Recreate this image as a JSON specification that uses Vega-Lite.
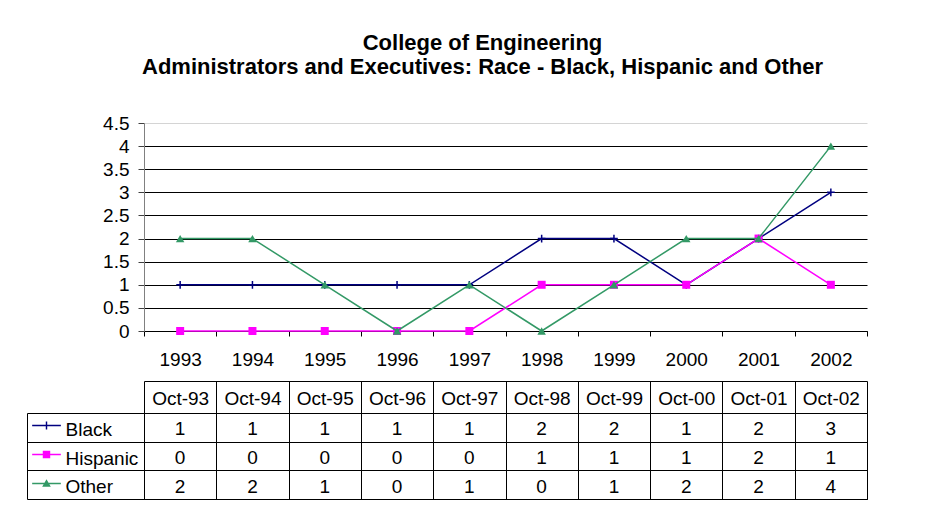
{
  "$schema": "https://vega.github.io/schema/vega-lite/v6.json",
  "background": "white",
  "padding": {"left": 26, "top": 31, "right": 78, "bottom": 12},
  "bounds": "flush",
  "spacing": 82,
  "title": {
    "text": ["College of Engineering", "Administrators and Executives: Race - Black, Hispanic and Other"],
    "font": "Liberation Sans",
    "fontSize": 22,
    "fontWeight": "bold",
    "lineHeight": 24.3,
    "color": "black",
    "anchor": "middle",
    "frame": "group",
    "dx": -23,
    "offset": 35
  },
  "config": {
    "font": "Liberation Sans",
    "view": {"stroke": null},
    "axis": {"labelFont": "Liberation Sans", "labelColor": "black", "titleFont": "Liberation Sans"},
    "legend": {"labelFont": "Liberation Sans"}
  },
  "datasets": {
    "counts": [
      {"year": "1993", "month": "Oct-93", "series": "Black", "value": 1},
      {"year": "1994", "month": "Oct-94", "series": "Black", "value": 1},
      {"year": "1995", "month": "Oct-95", "series": "Black", "value": 1},
      {"year": "1996", "month": "Oct-96", "series": "Black", "value": 1},
      {"year": "1997", "month": "Oct-97", "series": "Black", "value": 1},
      {"year": "1998", "month": "Oct-98", "series": "Black", "value": 2},
      {"year": "1999", "month": "Oct-99", "series": "Black", "value": 2},
      {"year": "2000", "month": "Oct-00", "series": "Black", "value": 1},
      {"year": "2001", "month": "Oct-01", "series": "Black", "value": 2},
      {"year": "2002", "month": "Oct-02", "series": "Black", "value": 3},
      {"year": "1993", "month": "Oct-93", "series": "Hispanic", "value": 0},
      {"year": "1994", "month": "Oct-94", "series": "Hispanic", "value": 0},
      {"year": "1995", "month": "Oct-95", "series": "Hispanic", "value": 0},
      {"year": "1996", "month": "Oct-96", "series": "Hispanic", "value": 0},
      {"year": "1997", "month": "Oct-97", "series": "Hispanic", "value": 0},
      {"year": "1998", "month": "Oct-98", "series": "Hispanic", "value": 1},
      {"year": "1999", "month": "Oct-99", "series": "Hispanic", "value": 1},
      {"year": "2000", "month": "Oct-00", "series": "Hispanic", "value": 1},
      {"year": "2001", "month": "Oct-01", "series": "Hispanic", "value": 2},
      {"year": "2002", "month": "Oct-02", "series": "Hispanic", "value": 1},
      {"year": "1993", "month": "Oct-93", "series": "Other", "value": 2},
      {"year": "1994", "month": "Oct-94", "series": "Other", "value": 2},
      {"year": "1995", "month": "Oct-95", "series": "Other", "value": 1},
      {"year": "1996", "month": "Oct-96", "series": "Other", "value": 0},
      {"year": "1997", "month": "Oct-97", "series": "Other", "value": 1},
      {"year": "1998", "month": "Oct-98", "series": "Other", "value": 0},
      {"year": "1999", "month": "Oct-99", "series": "Other", "value": 1},
      {"year": "2000", "month": "Oct-00", "series": "Other", "value": 2},
      {"year": "2001", "month": "Oct-01", "series": "Other", "value": 2},
      {"year": "2002", "month": "Oct-02", "series": "Other", "value": 4}
    ]
  },
  "vconcat": [
    {
      "width": 723,
      "height": 208,
      "data": {"name": "counts"},
      "encoding": {
        "x": {
          "field": "year",
          "type": "ordinal",
          "scale": {"type": "band", "domain": ["1993", "1994", "1995", "1996", "1997", "1998", "1999", "2000", "2001", "2002"], "paddingInner": 0, "paddingOuter": 0},
          "axis": {
            "title": null,
            "orient": "bottom",
            "tickBand": "extent",
            "tickSize": 5,
            "tickColor": "black",
            "domainColor": "black",
            "labelFontSize": 19,
            "labelPadding": 14,
            "labelAngle": 0,
            "grid": false
          }
        },
        "y": {
          "field": "value",
          "type": "quantitative",
          "scale": {"domain": [0, 4.5], "nice": false, "zero": true},
          "axis": {
            "title": null,
            "values": [0, 0.5, 1, 1.5, 2, 2.5, 3, 3.5, 4, 4.5],
            "format": "~g",
            "tickSize": 6,
            "tickColor": "#404040",
            "domainColor": "#808080",
            "labelPadding": 9,
            "labelFontSize": 19,
            "grid": true,
            "gridColor": {"condition": {"test": "datum.value === 4.5", "value": "#d4d4d4"}, "value": "black"},
            "gridWidth": 1,
            "gridOpacity": 1
          }
        }
      },
      "layer": [
        {
          "transform": [{"filter": "datum.series === 'Black'"}],
          "mark": {"type": "line", "color": "#000080", "strokeWidth": 1.5,
            "point": {"shape": "M0,-1V1M-1,0H1", "filled": false, "size": 60, "strokeWidth": 1.5, "color": "#000080", "opacity": 1}}
        },
        {
          "transform": [{"filter": "datum.series === 'Hispanic'"}],
          "mark": {"type": "line", "color": "#FF00FF", "strokeWidth": 1.5,
            "point": {"shape": "square", "filled": true, "size": 64, "color": "#FF00FF", "opacity": 1}}
        },
        {
          "transform": [{"filter": "datum.series === 'Other'"}],
          "mark": {"type": "line", "color": "#339966", "strokeWidth": 1.5,
            "point": {"shape": "triangle-up", "filled": true, "size": 72, "color": "#339966", "opacity": 1}}
        },
        {
          "transform": [{"filter": "datum.value < 0"}],
          "mark": {"type": "point", "filled": true, "size": 822, "opacity": 1},
          "encoding": {
            "color": {
              "field": "series",
              "type": "nominal",
              "scale": {"domain": ["Black", "Hispanic", "Other"], "range": ["#000080", "#FF00FF", "#339966"]},
              "legend": {
                "orient": "none",
                "legendX": -112,
                "legendY": 288,
                "direction": "vertical",
                "columns": 1,
                "title": null,
                "padding": 0,
                "rowPadding": 0,
                "symbolSize": 822,
                "symbolStrokeWidth": 0,
                "symbolOpacity": 1,
                "labelExpr": "''",
                "labelFontSize": 1
              }
            },
            "shape": {
              "field": "series",
              "type": "nominal",
              "scale": {
                "domain": ["Black", "Hispanic", "Other"],
                "range": [
                  "M0,-1ZM0,1ZM-1,-0.05H1V0.05H-1ZM-0.05,-0.28H0.05V0.28H-0.05Z",
                  "M0,-1ZM0,1ZM-1,-0.05H1V0.05H-1ZM-0.26,-0.26H0.26V0.26H-0.26Z",
                  "M0,-1ZM0,1ZM-1,-0.05H1V0.05H-1ZM0,-0.3L0.3,0.22H-0.3Z"
                ]
              },
              "legend": {
                "orient": "none",
                "legendX": -112,
                "legendY": 288,
                "direction": "vertical",
                "columns": 1,
                "title": null,
                "padding": 0,
                "rowPadding": 0,
                "symbolSize": 822,
                "symbolStrokeWidth": 0,
                "symbolOpacity": 1,
                "labelExpr": "''",
                "labelFontSize": 1
              }
            }
          }
        }
      ]
    },
    {
      "width": 723,
      "height": 86,
      "data": {"name": "counts"},
      "view": {"stroke": "black", "strokeWidth": 1},
      "encoding": {
        "x": {
          "field": "month",
          "type": "ordinal",
          "scale": {"type": "band", "domain": ["Oct-93", "Oct-94", "Oct-95", "Oct-96", "Oct-97", "Oct-98", "Oct-99", "Oct-00", "Oct-01", "Oct-02"], "paddingInner": 0, "paddingOuter": 0}
        },
        "y": {
          "field": "series",
          "type": "nominal",
          "scale": {"type": "band", "domain": ["Black", "Hispanic", "Other"], "paddingInner": 0, "paddingOuter": 0}
        }
      },
      "layer": [
        {
          "mark": {"type": "rect", "fill": "transparent", "strokeWidth": 0},
          "encoding": {
            "x": {
              "field": "month",
              "type": "ordinal",
              "axis": {
                "title": null,
                "orient": "top",
                "tickBand": "extent",
                "tickSize": 32,
                "tickColor": "black",
                "domain": false,
                "labelPadding": -23,
                "labelBaseline": "alphabetic",
                "labelFontSize": 19,
                "labelAngle": 0,
                "labelOverlap": false,
                "labelBound": false,
                "grid": true,
                "gridColor": "black",
                "gridOpacity": 1
              }
            },
            "y": {
              "field": "series",
              "type": "nominal",
              "axis": {
                "title": null,
                "orient": "left",
                "tickBand": "extent",
                "tickSize": 117,
                "tickColor": "black",
                "domain": false,
                "labelAlign": "left",
                "labelBaseline": "middle",
                "labelPadding": -38,
                "labelOffset": 2,
                "labelFontSize": 19,
                "labelOverlap": false,
                "labelBound": false,
                "grid": true,
                "gridColor": "black",
                "gridOpacity": 1
              }
            }
          }
        },
        {
          "mark": {"type": "text", "fontSize": 19, "baseline": "middle", "align": "center", "dy": 2, "color": "black"},
          "encoding": {
            "text": {"field": "value", "type": "quantitative"},
            "x": {
              "field": "month",
              "type": "ordinal",
              "axis": {"title": null, "orient": "top", "offset": 32, "domain": true, "domainColor": "black", "ticks": false, "labels": false, "grid": false}
            },
            "y": {
              "field": "series",
              "type": "nominal",
              "axis": {"title": null, "orient": "left", "offset": 117, "domain": true, "domainColor": "black", "ticks": false, "labels": false, "grid": false}
            }
          }
        }
      ],
      "resolve": {"axis": {"x": "independent", "y": "independent"}}
    }
  ]
}
